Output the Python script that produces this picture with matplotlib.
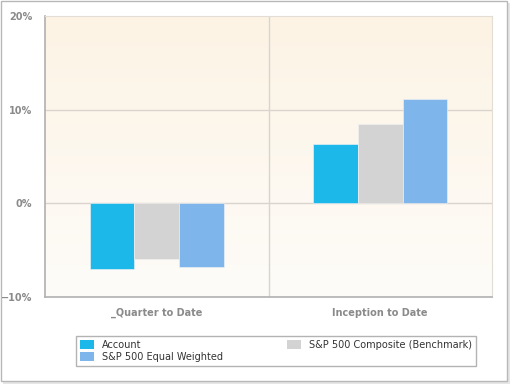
import numpy as np
import matplotlib.pyplot as plt
from matplotlib.patches import Rectangle, Patch
from matplotlib.colors import LinearSegmentedColormap

categories = ['_Quarter to Date', 'Inception to Date']
series = ['Account', 'S&P 500 Composite (Benchmark)', 'S&P 500 Equal Weighted']
account = [-7.0, 6.3]
benchmark = [-5.9, 8.5]
equal_weighted = [-6.8, 11.1]
yticks = [-10, 0, 10, 20]
ytick_labels = ['\u221210%', '0%', '10%', '20%']

colors = ['#1cb8ea', '#d3d3d3', '#7eb5ea']
txt_gray = '#8a8a8a'

fig = plt.figure(figsize=(5.17, 3.91), dpi=100)

# outer frame with a little shadow
W, H = 517, 391
fig.patches.append(Rectangle((3 / W, 1 - 384 / H), 507 / W, 381 / H, transform=fig.transFigure,
                             facecolor='#e6e6e6', edgecolor='none', zorder=0))
fig.patches.append(Rectangle((0.5 / W, 1 - 381 / H), 506 / W, 380 / H, transform=fig.transFigure,
                             facecolor='white', edgecolor='#b8b8b8', linewidth=1.0, zorder=1))

ax = fig.add_axes([45 / W, 1 - 297 / H, 447 / W, 281 / H])
ax.set_zorder(2)
ax.set_xlim(-0.5, 1.5)
ax.set_ylim(-10, 20)

# gradient background
cmap = LinearSegmentedColormap.from_list('bg', ['#fefcf9', '#fcf3e4'])
grad = np.linspace(0, 1, 256).reshape(-1, 1)
ax.imshow(grad, cmap=cmap, aspect='auto', origin='lower',
          extent=(-0.5, 1.5, -10, 20), zorder=0)

# grid lines
for y in [0, 10]:
    ax.axhline(y, color='#d9d5ce', linewidth=1.0, zorder=1)
ax.axvline(0.5, color='#d9d5ce', linewidth=1.0, zorder=1)

x = np.arange(len(categories))
w = 0.2
for i, (vals, c) in enumerate(zip([account, benchmark, equal_weighted], colors)):
    ax.bar(x + (i - 1) * w, vals, width=w, color=c, edgecolor='#f4f4f4',
           linewidth=0.4, zorder=3)

ax.set_yticks(yticks)
ax.set_yticklabels(ytick_labels)
ax.set_xticks(x)
ax.set_xticklabels(categories)
ax.tick_params(axis='both', length=0, colors=txt_gray, labelsize=7)
ax.tick_params(axis='y', pad=9)
ax.tick_params(axis='x', pad=8)
for lab in ax.get_xticklabels() + ax.get_yticklabels():
    lab.set_fontweight('bold')

ax.spines['left'].set_color('#b0b0b0')
ax.spines['bottom'].set_color('#b0b0b0')
ax.spines['left'].set_linewidth(1.2)
ax.spines['bottom'].set_linewidth(1.2)
ax.spines['top'].set_color('#e2ddd5')
ax.spines['right'].set_color('#e2ddd5')

handles = [Patch(facecolor=colors[0], label=series[0]),
           Patch(facecolor=colors[2], label=series[2]),
           Patch(facecolor=colors[1], label=series[1])]
leg = fig.legend(handles=handles, ncol=2, mode='expand',
                 bbox_to_anchor=(71 / W, 1 - 370 / H, 410 / W, 38 / H),
                 loc='center', fontsize=7, frameon=True, fancybox=False,
                 handlelength=1.5, handleheight=1.0, handletextpad=0.8,
                 labelspacing=0.2, borderpad=0.4)
leg.get_frame().set_edgecolor('#a0a0a0')
leg.get_frame().set_linewidth(1.0)
for t in leg.get_texts():
    t.set_color('#333333')

fig.savefig('out.png', dpi=100)
